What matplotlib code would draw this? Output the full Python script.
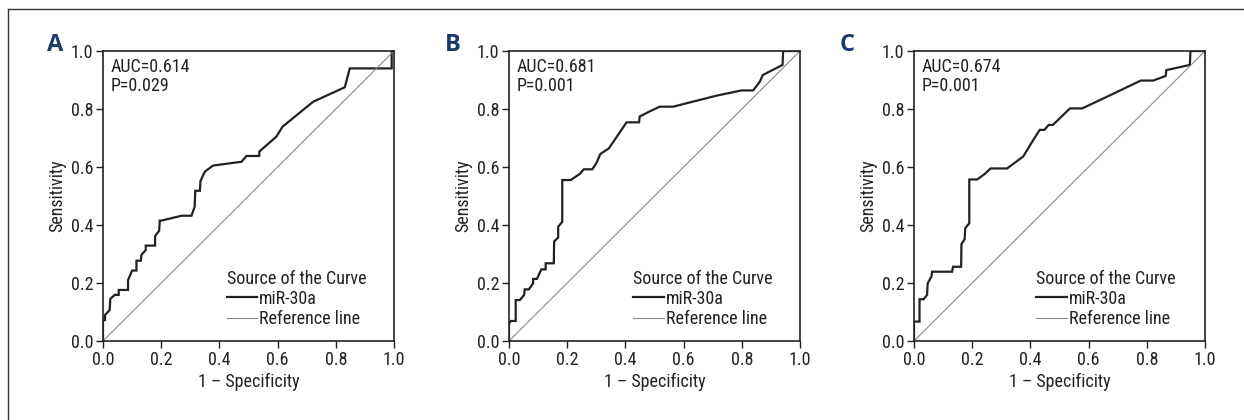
import matplotlib
matplotlib.use("Agg")
import matplotlib.pyplot as plt
from matplotlib.lines import Line2D

plt.rcParams['font.family'] = ['Roboto Condensed', 'Roboto', 'DejaVu Sans']

# ROC data (1 - specificity, sensitivity)
a_fpr = [0.0, 0.0, 0.007, 0.007, 0.023, 0.025, 0.04, 0.054, 0.054, 0.086, 0.086, 0.10, 0.115, 0.115,
         0.130, 0.132, 0.147, 0.147, 0.179, 0.179, 0.193, 0.195, 0.20, 0.27, 0.304, 0.315, 0.317,
         0.333, 0.335, 0.35, 0.378, 0.476, 0.493, 0.537, 0.537, 0.596, 0.617, 0.722, 0.831, 0.848,
         0.992, 0.992, 1.0]
a_tpr = [0.0, 0.072, 0.072, 0.09, 0.107, 0.145, 0.159, 0.159, 0.176, 0.176, 0.21, 0.243, 0.243, 0.277,
         0.277, 0.297, 0.314, 0.329, 0.329, 0.362, 0.38, 0.415, 0.415, 0.432, 0.432, 0.463, 0.518,
         0.518, 0.552, 0.584, 0.605, 0.618, 0.638, 0.638, 0.653, 0.705, 0.739, 0.825, 0.875, 0.94,
         0.94, 1.0, 1.0]

b_fpr = [0.0, 0.0, 0.006, 0.023, 0.023, 0.037, 0.052, 0.054, 0.068, 0.083, 0.083, 0.096, 0.111, 0.126,
         0.126, 0.154, 0.155, 0.169, 0.169, 0.183, 0.183, 0.212, 0.243, 0.257, 0.286, 0.30, 0.314,
         0.343, 0.404, 0.447, 0.449, 0.482, 0.518, 0.564, 0.713, 0.799, 0.839, 0.862, 0.872, 0.94,
         0.942, 1.0]
b_tpr = [0.0, 0.061, 0.069, 0.069, 0.141, 0.141, 0.159, 0.178, 0.178, 0.199, 0.214, 0.214, 0.247, 0.247,
         0.268, 0.268, 0.343, 0.357, 0.394, 0.411, 0.555, 0.555, 0.576, 0.592, 0.592, 0.613, 0.645,
         0.664, 0.754, 0.754, 0.774, 0.791, 0.808, 0.808, 0.846, 0.864, 0.864, 0.894, 0.917, 0.952,
         1.0, 1.0]

c_fpr = [0.0, 0.0, 0.019, 0.019, 0.033, 0.045, 0.047, 0.06, 0.062, 0.131, 0.134, 0.162, 0.163, 0.174,
         0.176, 0.19, 0.19, 0.217, 0.243, 0.263, 0.32, 0.375, 0.403, 0.432, 0.448, 0.463, 0.477,
         0.536, 0.578, 0.675, 0.779, 0.822, 0.865, 0.867, 0.948, 0.950, 1.0]
c_tpr = [0.0, 0.067, 0.067, 0.144, 0.144, 0.159, 0.199, 0.222, 0.239, 0.239, 0.256, 0.256, 0.334, 0.351,
         0.389, 0.406, 0.557, 0.557, 0.576, 0.595, 0.595, 0.636, 0.682, 0.728, 0.728, 0.745, 0.745,
         0.802, 0.802, 0.848, 0.898, 0.898, 0.914, 0.934, 0.952, 1.0, 1.0]

panel_labels = ['A', 'B', 'C']
auc_texts = ['AUC=0.614\nP=0.029', 'AUC=0.681\nP=0.001', 'AUC=0.674\nP=0.001']
curves = [(a_fpr, a_tpr), (b_fpr, b_tpr), (c_fpr, c_tpr)]
ticks = [0.0, 0.2, 0.4, 0.6, 0.8, 1.0]
tick_labels = ['0.0', '0.2', '0.4', '0.6', '0.8', '1.0']

W, H = 1244, 420
fig = plt.figure(figsize=(W / 100, H / 100), dpi=100)

# outer frame (top and left edges)
fig.add_artist(Line2D([8 / W, 1.0], [1 - 9 / H, 1 - 9 / H], color='#333333', lw=1.0))
fig.add_artist(Line2D([8 / W, 8 / W], [0, 1 - 9 / H], color='#333333', lw=1.0))

lefts = [103, 509, 914]
label_x = [47, 445, 840]
legend_x = [0.425, 0.427, 0.42]
navy = '#1b3a6b'
fs = 13
for i, (fpr, tpr) in enumerate(curves):
    ax = fig.add_axes([lefts[i] / W, (H - 341) / H, 291 / W, 290 / H])
    ax.plot(fpr, tpr, color='#222222', lw=1.6, label='miR-30a', solid_joinstyle='miter')
    ax.plot([0, 1], [0, 1], color='#888888', lw=0.8, label='Reference line')
    ax.set_xlim(0, 1)
    ax.set_ylim(0, 1)
    ax.set_xticks(ticks)
    ax.set_yticks(ticks)
    ax.set_xticklabels(tick_labels)
    ax.set_yticklabels(tick_labels)
    ax.tick_params(direction='out', length=5, width=1.0, labelsize=fs, pad=2, colors='#222222')
    for s in ax.spines.values():
        s.set_linewidth(1.2)
        s.set_color('#222222')
    ax.set_xlabel('1 – Specificity', fontsize=fs, labelpad=3, color='#222222')
    ax.set_ylabel('Sensitivity', fontsize=fs, labelpad=3, color='#222222')
    ax.text(0.025, 0.975, auc_texts[i], transform=ax.transAxes, va='top', ha='left',
            fontsize=fs, linespacing=1.05, color='#222222')
    leg = ax.legend(title='Source of the Curve', loc='lower left',
                    bbox_to_anchor=(legend_x[i], 0.045), frameon=False, fontsize=fs,
                    title_fontsize=fs, handlelength=1.7, handletextpad=0.1,
                    labelspacing=0.12, borderpad=0.0, borderaxespad=0.0)
    leg._legend_box.align = 'left'
    for t in leg.get_texts():
        t.set_color('#222222')
    leg.get_title().set_color('#222222')
    fig.text(label_x[i] / W, 1 - 51 / H, panel_labels[i], fontsize=17, fontweight='bold',
             color=navy, ha='left', va='baseline', family=['Open Sans', 'DejaVu Sans'])

fig.savefig('out.png', dpi=100)
